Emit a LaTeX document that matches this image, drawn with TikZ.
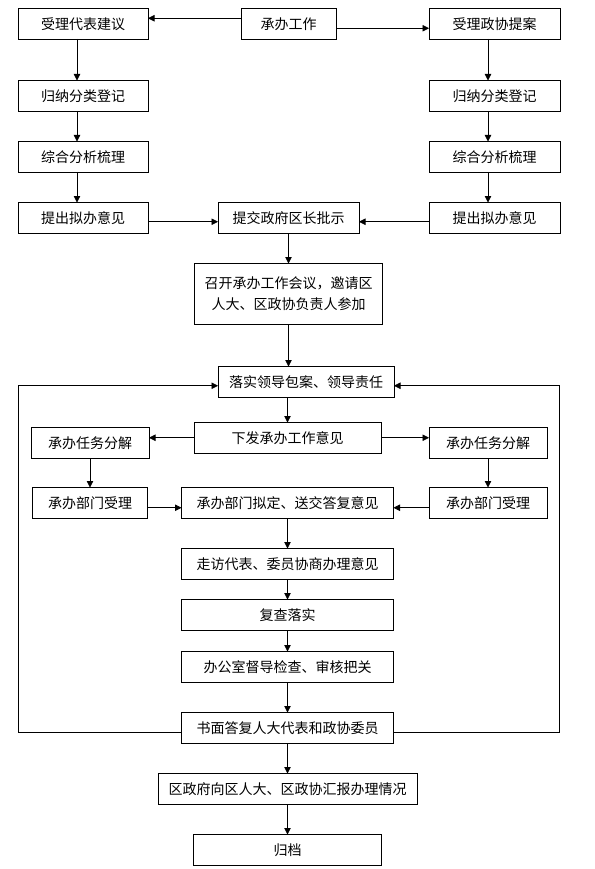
\documentclass[tikz,border=0pt]{standalone}
\usepackage{fontspec}
\usepackage{tikz}
\usetikzlibrary{arrows.meta,calc,positioning}
\newfontfamily\cjk{Noto Sans CJK SC}
\tikzset{
  procbox/.style={rectangle,draw=black,line width=0.8pt,fill=white,outer sep=0pt,
    minimum width=#1,minimum height=30.5pt,inner sep=0pt,align=center,
    font=\cjk\fontsize{14}{21}\selectfont},
  procbox/.default=130pt,
  flow/.style={-{Triangle[length=6.5pt,width=6.5pt]},line width=0.8pt,draw=black},
  loopline/.style={-{Triangle[length=6.5pt,width=6.5pt]},line width=0.8pt,draw=black}
}

\begin{document}
\begin{tikzpicture}
\useasboundingbox (0,0) rectangle (594pt,-869pt);
% top row
\node[procbox=95pt] (work) at (288.5pt,-23.75pt) {承办工作};
\node[procbox=130pt,left=93pt of work] (acceptL) {受理代表建议};
\node[procbox=131pt,right=93pt of work] (acceptR) {受理政协提案};
% two side columns
\node[procbox=130pt,below=41.5pt of acceptL] (sortL) {归纳分类登记};
\node[procbox=130pt,below=30.5pt of sortL] (analL) {综合分析梳理};
\node[procbox=130pt,below=30.5pt of analL] (propL) {提出拟办意见};
\node[procbox=131pt,below=41.5pt of acceptR] (sortR) {归纳分类登记};
\node[procbox=131pt,below=30.5pt of sortR] (analR) {综合分析梳理};
\node[procbox=131pt,below=30.5pt of analR] (propR) {提出拟办意见};
% main column
\node[procbox=141pt,right=70pt of propL] (submit) {提交政府区长批示};
\node[procbox=188pt,minimum height=61pt,below=30.5pt of submit] (meeting) {召开承办工作会议，邀请区\\人大、区政协负责人参加};
\node[procbox=176pt,below=42pt of meeting,xshift=17.5pt] (assign) {落实领导包案、领导责任};
\node[procbox=187pt,below=25.5pt of assign,xshift=-18.5pt] (issue) {下发承办工作意见};
\node[procbox=118pt,left=45pt of issue,yshift=-5pt] (taskL) {承办任务分解};
\node[procbox=118pt,right=48pt of issue,yshift=-5pt] (taskR) {承办任务分解};
\node[procbox=115pt,below=29.5pt of taskL] (deptL) {承办部门受理};
\node[procbox=118pt,below=29.5pt of taskR] (deptR) {承办部门受理};
\node[procbox=212pt,below=34.5pt of issue] (draft) {承办部门拟定、送交答复意见};
\node[procbox=212pt,below=30.5pt of draft] (visit) {走访代表、委员协商办理意见};
\node[procbox=212pt,below=20.5pt of visit] (review) {复查落实};
\node[procbox=212pt,below=21.5pt of review] (inspect) {办公室督导检查、审核把关};
\node[procbox=212pt,below=30.5pt of inspect] (reply) {书面答复人大代表和政协委员};
\node[procbox=259pt,below=30.5pt of reply] (report) {区政府向区人大、区政协汇报办理情况};
\node[procbox=188pt,below=30.5pt of report] (archive) {归档};
% connectors
\draw[flow] ([yshift=5.5pt]work.west) -- ([yshift=5.5pt]acceptL.east);
\draw[flow] ([yshift=-4.5pt]work.east) -- ([yshift=-4.5pt]acceptR.west);
\draw[flow] ([xshift=-6pt]acceptL.south) -- ([xshift=-6pt]sortL.north);
\draw[flow] ([xshift=-6pt]sortL.south) -- ([xshift=-6pt]analL.north);
\draw[flow] ([xshift=-6pt]analL.south) -- ([xshift=-6pt]propL.north);
\draw[flow] ([xshift=-6.5pt]acceptR.south) -- ([xshift=-6.5pt]sortR.north);
\draw[flow] ([xshift=-6.5pt]sortR.south) -- ([xshift=-6.5pt]analR.north);
\draw[flow] ([xshift=-6.5pt]analR.south) -- ([xshift=-6.5pt]propR.north);
\draw[flow] ([yshift=-4pt]propL.east) -- ([yshift=-4pt]submit.west);
\draw[flow] ([yshift=-4pt]propR.west) -- ([yshift=-4pt]submit.east);
\draw[flow] (submit) -- (meeting);
\draw[flow] (meeting.south) -- (meeting.south |- assign.north);
\draw[flow] (issue.north |- assign.south) -- (issue.north);
\draw[flow] (issue.west) -- (issue.west -| taskL.east);
\draw[flow] (issue.east) -- (issue.east -| taskR.west);
\draw[flow] (taskL) -- (taskL |- deptL.north);
\draw[flow] (taskR) -- (deptR);
\draw[flow] ([yshift=-5pt]deptL.east) -- ([yshift=-5pt]draft.west);
\draw[flow] ([yshift=-5pt]deptR.west) -- ([yshift=-5pt]draft.east);
\draw[flow] (draft) -- (visit);
\draw[flow] (visit) -- (review);
\draw[flow] (review) -- (inspect);
\draw[flow] (inspect) -- (reply);
\draw[flow] (reply) -- (report);
\draw[flow] (report) -- (archive);
% feedback loops
\coordinate (loopL) at ($(acceptL.west |- assign.west)+(0,-4pt)$);
\coordinate (loopR) at ($(acceptR.east |- assign.east)+(-1pt,-4pt)$);
\draw[loopline] ([yshift=-5pt]reply.west) -| (loopL) -- ([yshift=-4pt]assign.west);
\draw[loopline] ([yshift=-5pt]reply.east) -| (loopR) -- ([yshift=-4pt]assign.east);
\end{tikzpicture}
\end{document}
